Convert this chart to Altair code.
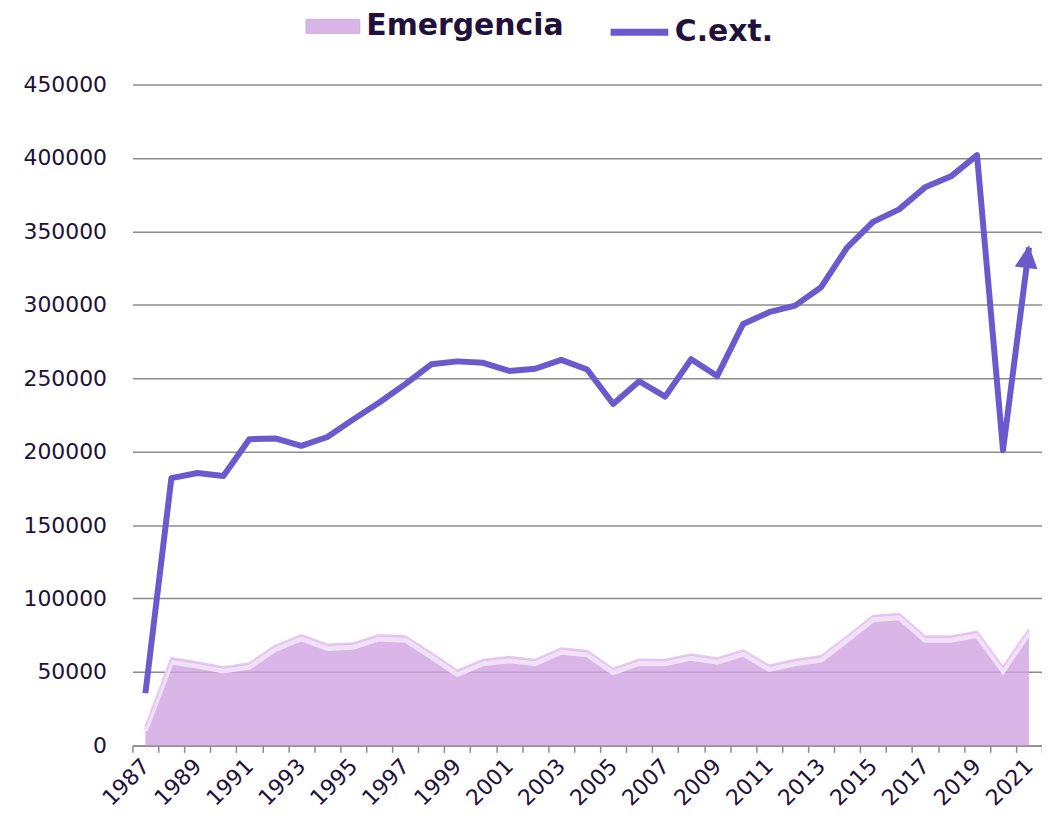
import altair as alt
import pandas as pd

years = [str(y) for y in range(1987, 2022)]
emergencia = [12700, 59400, 56700, 53300, 56000, 68000, 75200, 68700, 69600, 75200,
              74300, 63000, 51000, 58300, 60300, 58300, 66200, 64400, 52200, 58500,
              58300, 62100, 59400, 64800, 54400, 58300, 60800, 74300, 88300, 89700,
              74300, 74300, 77500, 53300, 79300]
cext = [35500, 182000, 185500, 183500, 208500, 209000, 204000, 210000, 222000, 233500,
        246000, 259500, 261500, 260500, 255000, 256500, 262500, 256000, 232500, 248000,
        237500, 263000, 251500, 287000, 295000, 299500, 312000, 339000, 356500, 365000,
        380000, 387500, 402000, 201000, 339000]
series_names = ["Emergencia", "C.ext."]
y_ticks = list(range(0, 450001, 50000))

AREA = "#D0A2E2"
LINE = "#6A5ACD"
GRID = "#8C8C8C"
TEXT = "#22103A"

df = pd.DataFrame({"year": years, "emer": emergencia, "cext": cext})

x = alt.X(
    "year:O", sort=years, bandPosition=0.5, title=None,
    scale=alt.Scale(type="band", paddingInner=0, paddingOuter=0),
    axis=alt.Axis(
        labelAngle=-45, labelAlign="right", labelBaseline="middle", labelPadding=10,
        labelFont="DejaVu Sans", labelFontSize=22, labelColor=TEXT,
        labelExpr="toNumber(datum.value) % 2 == 1 ? datum.value : ''",
        labelOverlap=False, domainColor=GRID, domainWidth=1.5,
        tickColor=GRID, tickWidth=1.5, tickSize=7, tickBand="extent", grid=False,
    ),
)
yscale = alt.Scale(domain=[0, 450000], nice=False)
yaxis = alt.Axis(
    values=y_ticks, format="d", grid=True, gridColor=GRID, gridWidth=1.5,
    domain=False, ticks=False, labelPadding=26, labelFont="DejaVu Sans",
    labelFontSize=22, labelColor=TEXT,
)

base = alt.Chart(df)

area = base.mark_area(opacity=0.8).encode(
    x=x,
    y=alt.Y("emer:Q", scale=yscale, axis=yaxis, title=None),
    fill=alt.Fill(
        "s1:N",
        scale=alt.Scale(domain=[series_names[0]], range=[AREA]),
        legend=alt.Legend(
            title=None, orient="none", legendX=174, legendY=-86, padding=0,
            symbolType="M-1,-0.26L1,-0.26L1,0.26L-1,0.26Z", symbolSize=2916,
            symbolOpacity=0.8, symbolStrokeColor="#BE98D2", symbolStrokeWidth=1,
            labelFont="DejaVu Sans", labelFontWeight="bold", labelFontSize=30,
            labelColor=TEXT, labelOffset=6, labelLimit=0,
        ),
    ),
).transform_calculate(s1="'Emergencia'")

glow = base.mark_line(color="#F3E6F7", strokeWidth=5, yOffset=4, opacity=0.9).encode(
    x=x, y=alt.Y("emer:Q", scale=yscale)
)
edge = base.mark_line(color="#E8C6F3", strokeWidth=2).encode(
    x=x, y=alt.Y("emer:Q", scale=yscale)
)

line = base.mark_line(strokeWidth=6, strokeCap="butt", strokeJoin="round").encode(
    x=x,
    y=alt.Y("cext:Q", scale=yscale),
    stroke=alt.Stroke(
        "s2:N",
        scale=alt.Scale(domain=[series_names[1]], range=[LINE]),
        legend=alt.Legend(
            title=None, orient="none", legendX=477, legendY=-85, padding=0,
            symbolType="stroke", symbolSize=3364, symbolStrokeWidth=7,
            labelFont="DejaVu Sans", labelFontWeight="bold", labelFontSize=30,
            labelColor=TEXT, labelOffset=3, labelLimit=0,
        ),
    ),
).transform_calculate(s2="'C.ext.'")

arrow = base.mark_point(
    shape="M0,-1L-1,1L1,1Z", size=529, filled=True, color=LINE, opacity=1,
    angle=7, xOffset=-1.5, yOffset=9,
).encode(
    x=x, y=alt.Y("cext:Q", scale=yscale)
).transform_filter("datum.year == '2021'")

chart = alt.layer(area, glow, edge, line, arrow).resolve_scale(
    fill="independent", stroke="independent"
).properties(
    width=914, height=664,
    autosize=alt.AutoSizeParams(type="none"),
    padding={"left": 125, "top": 75, "right": 0, "bottom": 68},
    background="white",
).configure_view(stroke=None)

chart.save("out.html", embed_options={"renderer": "svg", "actions": False})
